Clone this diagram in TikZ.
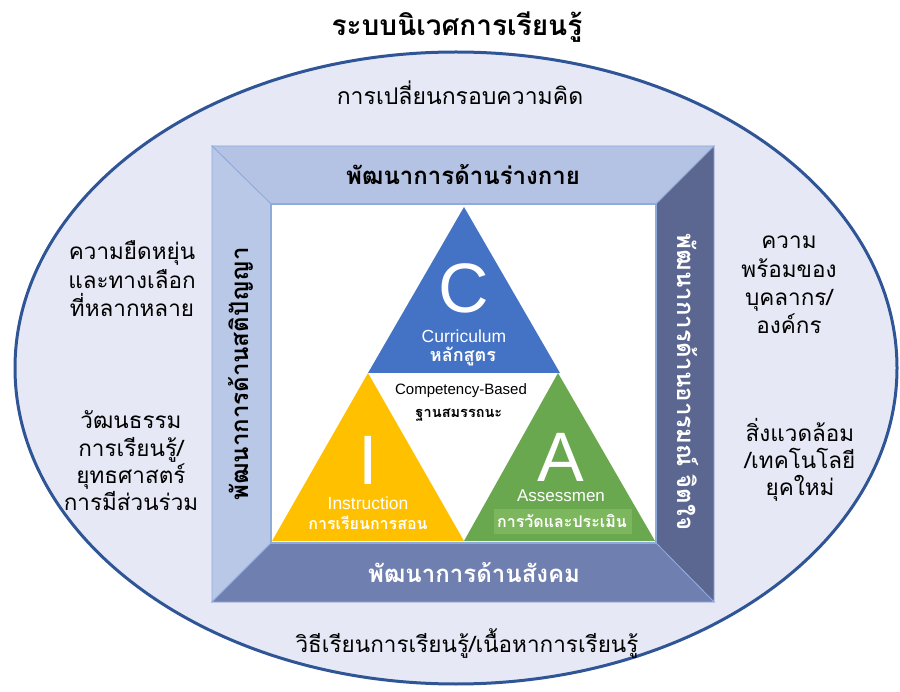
\documentclass[tikz,border=0pt]{standalone}
\usepackage{fontspec}
\setmainfont{Liberation Sans}
\newfontfamily\thf[Script=Thai]{Loma}
\definecolor{ellfill}{HTML}{E6E9F5}
\definecolor{ellline}{HTML}{2F5597}
\definecolor{bvtop}{HTML}{B4C2E3}
\definecolor{bvleft}{HTML}{BAC8E7}
\definecolor{bvright}{HTML}{5B6790}
\definecolor{bvbot}{HTML}{6F7FAF}
\definecolor{edge}{HTML}{8FAADC}
\definecolor{triblue}{HTML}{4472C4}
\definecolor{triyel}{HTML}{FFC000}
\definecolor{trigrn}{HTML}{6AA84F}
\definecolor{grnbox}{HTML}{7DB75D}
\tikzset{
  bevel/.style={draw=edge, line width=0.8pt},
  outtxt/.style={font=\thf\fontsize{22.5}{28}\selectfont, align=center, text=black},
  frametxt/.style={font=\thf\bfseries\fontsize{24}{26}\selectfont},
  bigletter/.style={font=\fontsize{70}{70}\selectfont, text=white, inner sep=0pt, text depth=0pt},
  engtxt/.style={font=\fontsize{17.5}{19}\selectfont, text=white, inner sep=1pt},
  thwhite/.style={font=\thf\bfseries\fontsize{16}{18}\selectfont, text=white, inner sep=1pt}
}
\begin{document}
\begin{tikzpicture}[x=1pt,y=-1pt]
\useasboundingbox (0,0) rectangle (900,692);
\fill[white] (0,0) rectangle (900,692);
% ellipse
\draw[fill=ellfill, draw=ellline, line width=3pt] (456,368) ellipse [x radius=441, y radius=316];
% frame bevels
\fill[bvtop, bevel] (212,146)--(714,146)--(656,204)--(271,204)--cycle;
\fill[bvleft, bevel] (212,146)--(271,204)--(271,543)--(212,602)--cycle;
\fill[bvright, bevel] (714,146)--(714,602)--(656,543)--(656,204)--cycle;
\fill[bvbot, bevel] (212,602)--(271,543)--(656,543)--(714,602)--cycle;
\draw[edge, line width=1.2pt, fill=white] (271,204) rectangle (656,543);
% triangles
\fill[triblue] (464,207)--(560,373)--(368,373)--cycle;
\fill[triyel] (368,373)--(464,541)--(272,541)--cycle;
\fill[trigrn] (558,373)--(655,541)--(464,541)--cycle;
\fill[grnbox] (494,509) rectangle (632,534);
% title and outer texts
\node[font=\thf\bfseries\fontsize{28}{30}\selectfont] (title) at (457,27) {ระบบนิเวศการเรียนรู้};
\node[outtxt, font=\thf\fontsize{23}{28}\selectfont] (mind) at (460,93) {การเปลี่ยนกรอบความคิด};
\node[outtxt, font=\thf\fontsize{22.5}{28.5}\selectfont] (flex) at (132,279) {ความยืดหยุ่น\\และทางเลือก\\ที่หลากหลาย};
\node[outtxt, font=\thf\fontsize{22.5}{27.3}\selectfont] (cult) at (131,461) {วัฒนธรรม\\การเรียนรู้/\\ยุทธศาสตร์\\การมีส่วนร่วม};
\node[outtxt, font=\thf\fontsize{22.5}{28.3}\selectfont] (ready) at (789,285) {ความ\\พร้อมของ\\บุคลากร/\\องค์กร};
\node[outtxt, font=\thf\fontsize{22.5}{27}\selectfont] (env) at (800,460) {สิ่งแวดล้อม\\/เทคโนโลยี\\ยุคใหม่};
\node[outtxt] (method) at (467,644) {วิธีเรียนการเรียนรู้/เนื้อหาการเรียนรู้};
% frame labels
\node[frametxt, text=black] (phys) at (463,175) {พัฒนาการด้านร่างกาย};
\node[frametxt, text=black, rotate=90] (intel) at (241,374) {พัฒนาการด้านสติปัญญา};
\node[frametxt, text=white, rotate=-90] (emo) at (688,382) {พัฒนาการด้านอารมณ์ จิตใจ};
\node[frametxt, text=white] (soc) at (474,573) {พัฒนาการด้านสังคม};
% triangle labels
\node[bigletter] (C) at (464,288) {C};
\node[engtxt] (curr) at (464,336) {Curriculum};
\node[thwhite, font=\thf\bfseries\fontsize{18}{20}\selectfont] (currth) at (463,356) {หลักสูตร};
\node[font=\fontsize{15}{17}\selectfont, inner sep=1pt] (comp) at (461,391) {Competency-Based};
\node[font=\thf\bfseries\fontsize{14.5}{16}\selectfont, inner sep=1pt] (compth) at (459,415) {ฐานสมรรถนะ};
\node[bigletter] (I) at (368,460) {I};
\node[engtxt] (instr) at (368,503) {Instruction};
\node[thwhite] (instrth) at (368,523) {การเรียนการสอน};
\node[bigletter] (A) at (561,457) {A};
\node[engtxt, font=\fontsize{17}{19}\selectfont, inner sep=0pt] (assess) at (561,496) {Assessmen};
\node[thwhite] (assessth) at (562,521) {การวัดและประเมิน};
\end{tikzpicture}
\end{document}
